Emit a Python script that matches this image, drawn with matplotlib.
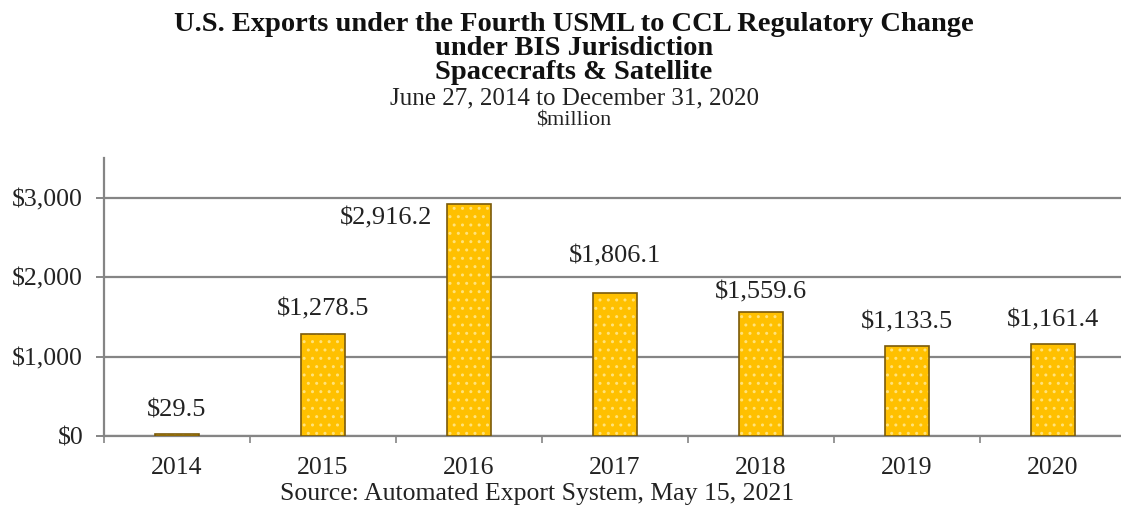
import matplotlib
matplotlib.use("Agg")
import matplotlib.pyplot as plt
import numpy as np
from matplotlib.ticker import FixedLocator, FuncFormatter

years = ["2014", "2015", "2016", "2017", "2018", "2019", "2020"]
values = [29.5, 1278.5, 2916.2, 1806.1, 1559.6, 1133.5, 1161.4]
labels = ["$29.5", "$1,278.5", "$2,916.2", "$1,806.1", "$1,559.6", "$1,133.5", "$1,161.4"]
yticks = [0, 1000, 2000, 3000]

title_lines = ["U.S. Exports under the Fourth USML to CCL Regulatory Change",
               "under BIS Jurisdiction",
               "Spacecrafts & Satellite"]
subtitle_lines = ["June 27, 2014 to December 31, 2020", "$million"]
source = "Source: Automated Export System, May 15, 2021"

plt.rcParams['font.family'] = ['Liberation Serif', 'DejaVu Serif']

W, H = 1121, 518
fig = plt.figure(figsize=(W / 100, H / 100), dpi=100)
ax = fig.add_axes([104 / W, 1 - 436 / H, 1022 / W, 278 / H])

x = np.arange(len(years))
bw = 0.3
ax.bar(x, values, width=bw, color="#FFC000", edgecolor="#FFE27A",
       hatch="..", linewidth=0, zorder=3)
ax.bar(x, values, width=bw, fill=False, edgecolor="#7A5A0A",
       linewidth=1.2, zorder=4)

ax.set_xlim(-0.5, len(years) - 0.5)
ax.set_ylim(0, 3500)

ax.yaxis.set_major_locator(FixedLocator(yticks))
ax.yaxis.set_major_formatter(FuncFormatter(lambda v, p: "${:,.0f}".format(v)))
ax.grid(axis="y", color="#858585", linewidth=1.6, zorder=0)
ax.set_axisbelow(True)

ax.set_xticks(x)
ax.set_xticklabels(years)
ax.set_xticks(np.arange(len(years) + 1) - 0.5, minor=True)
ax.tick_params(axis="x", which="major", length=0, pad=15, labelsize=18.5, colors="#222222")
ax.tick_params(axis="x", which="minor", length=5, width=1.2, color="#858585", direction="out")
ax.tick_params(axis="y", which="major", length=6, width=1.4, color="#858585", pad=9,
               labelsize=18.5, labelcolor="#222222", direction="out")

for s in ["top", "right"]:
    ax.spines[s].set_visible(False)
for s in ["left", "bottom"]:
    ax.spines[s].set_color("#858585")
    ax.spines[s].set_linewidth(1.6)

# data labels (offsets in points above bar top; 2016 sits to the left of its bar)
offsets = [17, 18, None, 26, 14, 17, 17]
for i, (v, lab) in enumerate(zip(values, labels)):
    if offsets[i] is None:
        ax.annotate(lab, (x[i] - bw / 2, v), xytext=(-11, -10), textcoords="offset points",
                    ha="right", va="center", fontsize=19, color="#222222", zorder=5)
    else:
        ax.annotate(lab, (x[i], v), xytext=(0, offsets[i]), textcoords="offset points",
                    ha="center", va="center", fontsize=19, color="#222222", zorder=5)

cx = 574 / W
fig.text(cx, 1 - 48.5 / H, "\n".join(title_lines), ha="center", va="center",
         multialignment="center", fontsize=20.5, linespacing=0.95,
         fontweight="bold", color="#111111")
fig.text(cx, 1 - 98.5 / H, subtitle_lines[0], ha="center", va="center", fontsize=18, color="#222222")
fig.text(cx, 1 - 121 / H, subtitle_lines[1], ha="center", va="center", fontsize=16, color="#222222")
fig.text(537 / W, 1 - 494 / H, source, ha="center", va="center", fontsize=18.5, color="#222222")

fig.savefig("out.png", dpi=100, facecolor="white")
